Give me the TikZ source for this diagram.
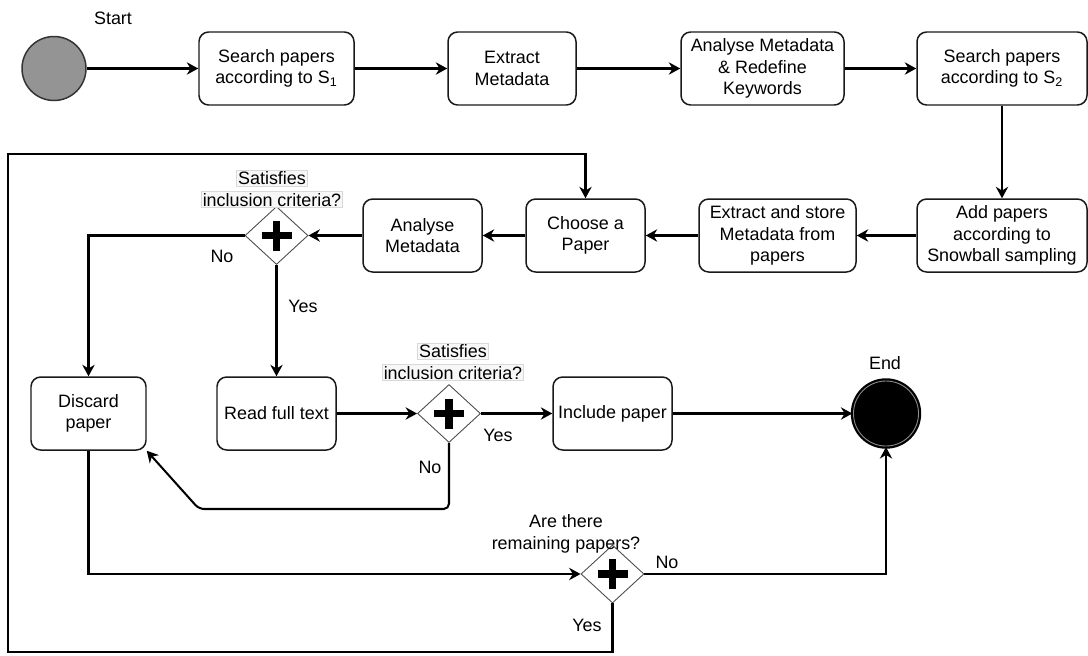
\documentclass[tikz,border=0pt]{standalone}
\usepackage{fontspec}
\setmainfont{Liberation Sans}
\usetikzlibrary{arrows.meta, shapes.geometric, positioning}

\definecolor{lblfill}{HTML}{F7F7F7}
\definecolor{lblline}{HTML}{D9D9D9}
\newcommand{\lbl}[1]{\fcolorbox{lblline}{lblfill}{#1}}

\begin{document}
\begin{tikzpicture}[
    font=\fontsize{10.2}{12.3}\selectfont,
    box/.style={draw=black!90, line width=0.85pt, rounded corners=5.5pt, align=center,
                minimum height=1.46cm, inner sep=1pt},
    gate/.style={diamond, draw=black!70, line width=0.5pt, fill=white,
                 minimum width=1.26cm, minimum height=1.16cm, inner sep=0pt},
    arr/.style={line width=1.15pt, -{Stealth[length=6.5pt,width=7pt]}},
    conn/.style={line width=1.15pt}
]
    \setlength{\fboxsep}{0.6pt}
    \setlength{\fboxrule}{0.4pt}
    \useasboundingbox (0,0) rectangle (21.76,-13.1);

    % first row
    \node[circle, draw=black!80, line width=0.85pt, fill=black!42, minimum size=1.28cm] (start) at (1.08,-1.37) {};
    \node (lStart) at (2.26,-0.36) {Start};
    \node[box, minimum width=3.10cm] (s1) at (5.53,-1.37) {Search papers\\according to S\textsubscript{1}};
    \node[box, minimum width=2.56cm] (ext) at (10.24,-1.37) {Extract\\Metadata};
    \node[box, minimum width=3.26cm] (ana) at (15.25,-1.37) {Analyse Metadata\\\& Redefine\\Keywords};
    \node[box, minimum width=3.40cm] (s2) at (20.04,-1.37) {Search papers\\according to S\textsubscript{2}};

    % second row
    \node[box, minimum width=3.40cm] (snow) at (20.04,-4.71) {Add papers\\according to\\Snowball sampling};
    \node[box, minimum width=3.14cm] (store) at (15.55,-4.71) {Extract and store\\Metadata from\\papers};
    \node[box, minimum width=2.38cm] (choose) at (11.71,-4.71) {Choose a\\Paper};
    \node[box, minimum width=2.38cm] (meta) at (8.45,-4.71) {Analyse\\Metadata};
    \node[gate] (d1) at (5.53,-4.71) {};
    \node[align=center] (lD1) at (5.44,-3.78) {\lbl{Satisfies}\\\lbl{inclusion criteria?}};

    % third row
    \node[box, minimum width=2.30cm] (discard) at (1.77,-8.27) {Discard\\paper};
    \node[box, minimum width=2.38cm] (read) at (5.53,-8.27) {Read full text};
    \node[gate] (d2) at (8.98,-8.27) {};
    \node[align=center] (lD2) at (9.06,-7.24) {\lbl{Satisfies}\\\lbl{inclusion criteria?}};
    \node[box, minimum width=2.38cm] (incl) at (12.25,-8.27) {Include paper};
    \node[circle, draw=black, fill=black, line width=1.3pt, double=black!45, double distance=0.5pt,
          minimum size=1.30cm] (fin) at (17.72,-8.27) {};
    \node (lEnd) at (17.70,-7.26) {End};

    % last gate
    \node[gate] (d3) at (12.25,-11.48) {};
    \node[align=center] (lD3) at (11.32,-10.68) {Are there\\remaining papers?};

    \foreach \d in {d1,d2,d3}
    {
        \draw[line width=4.3pt] (\d.center) ++(-0.3,0) -- ++(0.6,0);
        \draw[line width=4.3pt] (\d.center) ++(0,-0.3) -- ++(0,0.6);
    }

    \coordinate (k1) at (3.98,-10.18);
    \coordinate (lp1) at (0.16,-13.04);
    \coordinate (lp2) at (0.16,-3.08);

    \draw[arr] (start) -- (s1);
    \draw[arr] (s1) -- (ext);
    \draw[arr] (ext) -- (ana);
    \draw[arr] (ana) -- (s2);
    \draw[arr] (s2) -- (snow);
    \draw[arr] (snow) -- (store);
    \draw[arr] (store) -- (choose);
    \draw[arr] (choose) -- (meta);
    \draw[arr] (meta) -- (d1);
    \draw[arr] (d1.west) -| (discard.north);
    \draw[arr] (d1.south) -- (read.north);
    \draw[arr] (read) -- (d2);
    \draw[arr] (d2) -- (incl);
    \draw[arr] (incl) -- (fin);
    \draw[arr, rounded corners=3pt] (d2.south) |- (k1) -- (discard.south east);
    \draw[arr] (discard.south) |- (d3.west);
    \draw[arr] (d3.east) -| (fin.south);
    \draw[arr] (d3.south) |- (lp1) -- (lp2) -| (choose.north);

    \node (nD1) at (4.44,-5.12) {No};
    \node (yD1) at (6.06,-6.12) {Yes};
    \node (yD2) at (9.96,-8.70) {Yes};
    \node (nD2) at (8.60,-9.34) {No};
    \node (nD3) at (13.34,-11.24) {No};
    \node (yD3) at (11.74,-12.50) {Yes};

\end{tikzpicture}
\end{document}
